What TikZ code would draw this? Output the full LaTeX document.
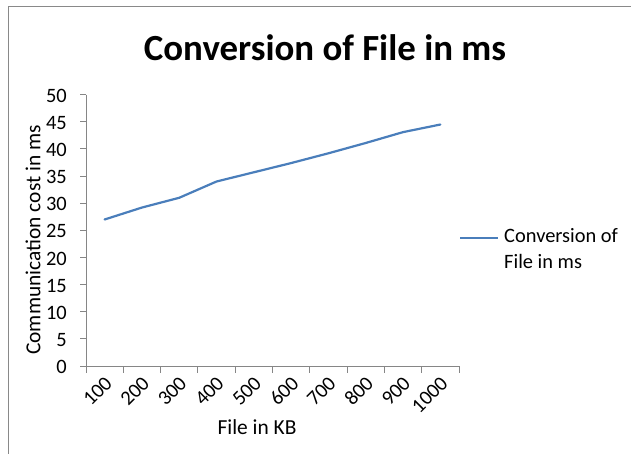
\documentclass[tikz,border=0pt]{standalone}
\usepackage{fontspec}
\setmainfont{Carlito}

\definecolor{framegray}{HTML}{898989}
\definecolor{axisgray}{HTML}{868686}
\definecolor{lineblue}{HTML}{4A7EBB}

\tikzset{
  ticklabel/.style={font=\fontsize{20.5}{25}\selectfont, inner sep=0pt},
  axistitle/.style={font=\fontsize{21.5}{25}\selectfont, inner sep=0pt},
  series/.style={lineblue, line width=2.2bp, line join=round, line cap=round}
}

\begin{document}
\begin{tikzpicture}[x=1bp, y=-1bp]
\useasboundingbox (0,0) rectangle (631,454);

% chart frame (left and top edges only)
\draw[framegray, line width=1.6bp] (8.5,454) -- (8.5,6.5) -- (631,6.5);

% title
\node[font=\fontsize{37}{42}\selectfont\bfseries, inner sep=0pt] (title) at (325,48) {Conversion of File in ms};

% axes
\draw[axisgray, line width=1bp] (86,94.7) -- (86,366) -- (459,366);
\foreach \v in {0,5,...,50}{
  \draw[axisgray, line width=1bp] (80,{366-5.426*\v}) -- (86,{366-5.426*\v});
  \node[ticklabel, anchor=east] (ylab\v) at (67,{367-5.426*\v}) {\v};
}
\foreach \i in {0,...,10}
  \draw[axisgray, line width=1bp] ({86+37.3*\i},366) -- ({86+37.3*\i},373);
\foreach \lab [count=\i] in {100,200,...,1000}
  \node[ticklabel, rotate=45, anchor=east] (xlab\i) at ({86+37.3*(\i-0.5)+4},380) {\lab};

% axis titles
\node[axistitle, rotate=90] (ytitle) at (33,240) {Communication cost in ms};
\node[axistitle] (xtitle) at (257,427) {File in KB};

% data
\draw[series] (104.6,{366-5.426*27}) -- (141.9,{366-5.426*29.2})
  -- (179.2,{366-5.426*31}) -- (216.5,{366-5.426*34})
  -- (253.8,{366-5.426*35.7}) -- (291.1,{366-5.426*37.4})
  -- (328.4,{366-5.426*39.2}) -- (365.7,{366-5.426*41.1})
  -- (403.0,{366-5.426*43.1}) -- (440.3,{366-5.426*44.5});

% legend
\coordinate (legA) at (460,238);
\coordinate (legB) at (498,238);
\draw[series, line cap=butt] (legA) -- (legB);
\node[ticklabel, anchor=north west, align=left, font=\fontsize{20.5}{26}\selectfont] (legtext) at (504,228) {Conversion of\\File in ms};
\end{tikzpicture}
\end{document}
